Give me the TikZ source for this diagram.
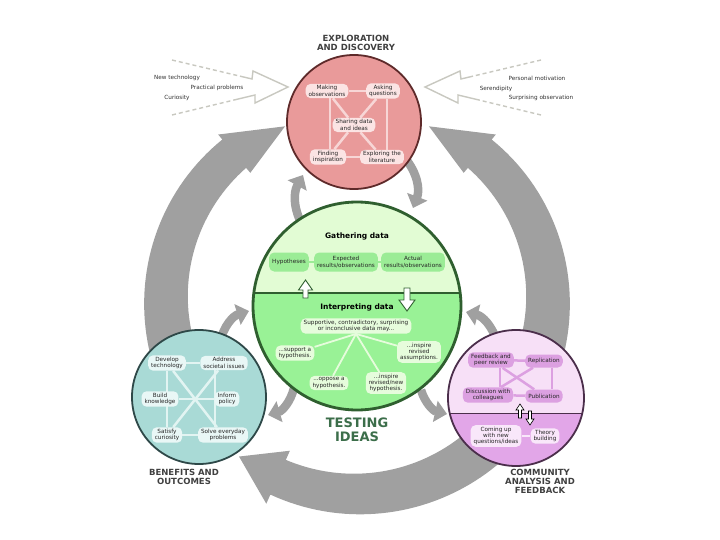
\documentclass[tikz,border=0pt]{standalone}
\usepackage{fontspec}
\setmainfont{DejaVu Sans}
\usetikzlibrary{arrows.meta}
\definecolor{arcgray}{RGB}{160,160,160}
\definecolor{outl}{RGB}{200,200,192}
\definecolor{redF}{RGB}{233,154,154}
\definecolor{redB}{RGB}{94,42,42}
\definecolor{redBox}{RGB}{251,228,228}
\definecolor{redLn}{RGB}{247,214,214}
\definecolor{gUp}{RGB}{226,252,212}
\definecolor{gLow}{RGB}{153,242,150}
\definecolor{gB}{RGB}{47,95,47}
\definecolor{gBoxU}{RGB}{155,236,150}
\definecolor{gBoxL}{RGB}{230,252,220}
\definecolor{tF}{RGB}{169,218,214}
\definecolor{tB}{RGB}{46,72,72}
\definecolor{tBox}{RGB}{233,247,246}
\definecolor{tLn}{RGB}{226,244,242}
\definecolor{pUp}{RGB}{247,224,247}
\definecolor{pLow}{RGB}{226,166,232}
\definecolor{pB}{RGB}{75,46,75}
\definecolor{pBoxU}{RGB}{220,160,225}
\definecolor{pBoxL}{RGB}{249,231,250}
\definecolor{hdgray}{RGB}{64,64,64}
\definecolor{tgreen}{RGB}{60,110,74}
\newcommand\smtxt{\fontsize{5.7}{6.3}\selectfont}
\newcommand\hdtxt{\fontsize{8.5}{9}\selectfont\bfseries}
\pgfdeclarelayer{bg}
\pgfdeclarelayer{circ}
\pgfdeclarelayer{lines}
\pgfsetlayers{bg,circ,lines,main}
\begin{document}
\begin{tikzpicture}[x=1pt,y=1pt,
  box/.style={rounded corners=5pt, inner xsep=3pt, inner ysep=1.8pt, minimum height=13pt, align=center, font=\smtxt, text=black!85},
  lbl/.style={font=\smtxt, text=black!80, inner sep=0.5pt},
  hd/.style={font=\hdtxt, text=hdgray, align=center},
  sarrow/.style={draw=arcgray, line width=8.5pt, -{Triangle[width=21pt,length=12pt]}},
  dsh/.style={draw=outl, line width=1.4pt, dash pattern=on 4pt off 3pt},
  hollow/.style={draw=outl, line width=1.4pt, line join=miter, fill=white},
  harrow/.style={draw=gB, fill=white, line width=0.9pt, line join=miter},
  parrow/.style={draw=black, fill=white, line width=0.6pt, line join=miter}
]
\useasboundingbox (0,0) rectangle (720,-540);

% ---------------- circles ----------------
\begin{pgfonlayer}{circ}
\node[circle, minimum size=134pt, inner sep=0pt, fill=redF, draw=redB, line width=1.8pt] (topc) at (354,-122) {};
\node[circle, minimum size=208pt, inner sep=0pt, fill=gUp, draw=gB, line width=2.8pt,
  path picture={\fill[gLow] (path picture bounding box.south west) rectangle ([yshift=13pt]path picture bounding box.east);
                \draw[gB, line width=1.6pt] ([yshift=13pt]path picture bounding box.west) -- ([yshift=13pt]path picture bounding box.east);}] (mid) at (357,-306) {};
\node[circle, minimum size=134pt, inner sep=0pt, fill=tF, draw=tB, line width=1.8pt] (lc) at (199,-397) {};
\node[circle, minimum size=136pt, inner sep=0pt, fill=pUp, draw=pB, line width=1.8pt,
  path picture={\fill[pLow] (path picture bounding box.south west) rectangle ([yshift=-15pt]path picture bounding box.east);
                \draw[pB, line width=0.8pt] ([yshift=-15pt]path picture bounding box.west) -- ([yshift=-15pt]path picture bounding box.east);}] (rc) at (516,-398) {};
\end{pgfonlayer}

% ---------------- headings ----------------
\node[hd] (hexp) at (356,-43) {EXPLORATION\\AND DISCOVERY};
\node[hd] (hben) at (184,-477) {BENEFITS AND\\OUTCOMES};
\node[hd] (hcom) at (540,-481) {COMMUNITY\\ANALYSIS AND\\FEEDBACK};
\node[font=\fontsize{13}{13.5}\selectfont\bfseries, text=tgreen, align=center] (htest) at (357,-430) {TESTING\\IDEAS};

% ---------------- background arrows ----------------
\begin{pgfonlayer}{bg}
\fill[white] (0,0) rectangle (720,-540);
% left big arc
\fill[arcgray] plot[domain=205:130, samples=40] ({357+(191+(47-10*(205-\x)/75)/2)*cos(\x)},{-300+(191+(47-10*(205-\x)/75)/2)*sin(\x)})
  -- ({357+216*cos(130)},{-300+216*sin(130)})
  -- ({357+188*cos(112.5)},{-300+188*sin(112.5)})
  -- ({357+166*cos(130)},{-300+166*sin(130)})
  -- plot[domain=130:205, samples=40] ({357+(191-(47-10*(205-\x)/75)/2)*cos(\x)},{-300+(191-(47-10*(205-\x)/75)/2)*sin(\x)})
  -- cycle;
% right big arc
\fill[arcgray] plot[domain=-25:50, samples=40] ({357+(191+(47-10*(\x+25)/75)/2)*cos(\x)},{-300+(191+(47-10*(\x+25)/75)/2)*sin(\x)})
  -- ({357+216*cos(50)},{-300+216*sin(50)})
  -- ({357+188*cos(67.5)},{-300+188*sin(67.5)})
  -- ({357+166*cos(50)},{-300+166*sin(50)})
  -- plot[domain=50:-25, samples=40] ({357+(191-(47-10*(\x+25)/75)/2)*cos(\x)},{-300+(191-(47-10*(\x+25)/75)/2)*sin(\x)})
  -- cycle;
% bottom big arc
\fill[arcgray] plot[domain=-40:-114, samples=40] ({357+(194+(46-8*(-40-\x)/74)/2)*cos(\x)},{-300+(194+(46-8*(-40-\x)/74)/2)*sin(\x)})
  -- ({357+223*cos(-114)},{-300+223*sin(-114)})
  -- ({357+196*cos(-127)},{-300+196*sin(-127)})
  -- ({357+165*cos(-114)},{-300+165*sin(-114)})
  -- plot[domain=-114:-40, samples=40] ({357+(194-(46-8*(-40-\x)/74)/2)*cos(\x)},{-300+(194-(46-8*(-40-\x)/74)/2)*sin(\x)})
  -- cycle;
% small curved arrows
\coordinate (a1s) at (304,-228); \coordinate (a1e) at (303,-175);
\coordinate (a2s) at (405,-158); \coordinate (a2e) at (413,-208);
\coordinate (a3s) at (220,-342); \coordinate (a3e) at (249,-311);
\coordinate (a4s) at (294,-388); \coordinate (a4e) at (268,-415);
\coordinate (a5s) at (497,-342); \coordinate (a5e) at (466,-312);
\coordinate (a6s) at (421,-390); \coordinate (a6e) at (447,-414);
\draw[sarrow] (a1s) to[bend left=30] (a1e);
\draw[sarrow] (a2s) to[bend left=30] (a2e);
\draw[sarrow] (a3s) to[bend left=30] (a3e);
\draw[sarrow] (a4s) to[bend left=30] (a4e);
\draw[sarrow] (a5s) to[bend right=30] (a5e);
\draw[sarrow] (a6s) to[bend right=30] (a6e);
% dashed hollow arrows
\draw[dsh] (172,-60) -- (240,-76.15);
\draw[dsh] (172,-115) -- (237,-99.3);
\draw[hollow] (240,-76.15) -- (252,-79) -- (253,-71) -- (288,-87) -- (255,-103) -- (255,-95) -- (237,-99.3);
\draw[dsh] (541,-60) -- (473,-76.15);
\draw[dsh] (541,-115) -- (476,-99.3);
\draw[hollow] (473,-76.15) -- (461,-79) -- (460,-71) -- (425,-87) -- (458,-103) -- (458,-95) -- (476,-99.3);
\end{pgfonlayer}

% labels near dashed arrows
\node[lbl] (l1) at (177,-78) {New technology};
\node[lbl] (l2) at (217,-88) {Practical problems};
\node[lbl] (l3) at (177,-98) {Curiosity};
\node[lbl] (r1) at (537,-78) {Personal motivation};
\node[lbl] (r2) at (496,-89) {Serendipity};
\node[lbl] (r3) at (541,-98) {Surprising observation};

% ---------------- top circle ----------------
\node[box, fill=redBox] (tl) at (327,-91) {Making\\observations};
\node[box, fill=redBox] (tr) at (383,-91) {Asking\\questions};
\node[box, fill=redBox] (tc) at (354,-125) {Sharing data\\and ideas};
\node[box, fill=redBox] (bl) at (328,-157) {Finding\\inspiration};
\node[box, fill=redBox] (br) at (382,-157) {Exploring the\\literature};
\begin{pgfonlayer}{lines}
\draw[redLn, line width=2.5pt] (tl) -- (tr);
\draw[redLn, line width=2.5pt] (bl) -- (br);
\draw[redLn, line width=2.5pt] ([xshift=3pt]tl.south) -- ([xshift=2pt]bl.north);
\draw[redLn, line width=2.5pt] ([xshift=4pt]tr.south) -- ([xshift=5pt]br.north);
\draw[redLn, line width=2.5pt] (tl) -- (tc);
\draw[redLn, line width=2.5pt] (tc) -- (br);
\draw[redLn, line width=2.5pt] (tr) -- (tc);
\draw[redLn, line width=2.5pt] (tc) -- (bl);
\end{pgfonlayer}

% ---------------- middle circle ----------------
\node[font=\fontsize{7.5}{8}\selectfont\bfseries] (gath) at (357,-236) {Gathering data};
\node[box, fill=gBoxU, minimum height=19pt] (hyp) at (289,-262) {Hypotheses};
\node[box, fill=gBoxU, minimum height=19pt] (exp) at (346,-262) {Expected\\results/observations};
\node[box, fill=gBoxU, minimum height=19pt] (act) at (413,-262) {Actual\\results/observations};
\node[font=\fontsize{7.5}{8}\selectfont\bfseries] (interp) at (357,-307) {Interpreting data};
\node[box, fill=gBoxL] (sup) at (356,-326) {Supportive, contradictory, surprising\\or inconclusive data may...};
\node[box, fill=gBoxL, align=left] (s1) at (295,-353) {...support a\\hypothesis.};
\node[box, fill=gBoxL] (s2) at (419,-352) {...inspire\\revised\\assumptions.};
\node[box, fill=gBoxL] (s3) at (329,-383) {...oppose a\\hypothesis.};
\node[box, fill=gBoxL] (s4) at (386,-383) {...inspire\\revised/new\\hypothesis.};
\begin{pgfonlayer}{lines}
\draw[gBoxU, line width=2pt] (hyp) -- (exp);
\draw[gBoxU, line width=2pt] (exp) -- (act);
\draw[gBoxL, line width=1.8pt] (sup.south) -- (s1);
\draw[gBoxL, line width=1.8pt] (sup.south) -- (s2);
\draw[gBoxL, line width=1.8pt] (sup.south) -- (s3);
\draw[gBoxL, line width=1.8pt] (sup.south) -- (s4);
\end{pgfonlayer}
\draw[harrow] (303,-298) -- (303,-290) -- (298.5,-290) -- (305.5,-280) -- (312.5,-290) -- (308,-290) -- (308,-298) -- cycle;
\draw[harrow] (404,-288) -- (404,-300) -- (399,-300) -- (407,-311) -- (415,-300) -- (410,-300) -- (410,-288) -- cycle;

% ---------------- left circle ----------------
\node[box, fill=tBox] (dev) at (167,-363) {Develop\\technology};
\node[box, fill=tBox] (adr) at (224,-363) {Address\\societal issues};
\node[box, fill=tBox] (bld) at (160,-399) {Build\\knowledge};
\node[box, fill=tBox] (inf) at (227,-399) {Inform\\policy};
\node[box, fill=tBox] (sat) at (167,-435) {Satisfy\\curiosity};
\node[box, fill=tBox] (slv) at (223,-435) {Solve everyday\\problems};
\begin{pgfonlayer}{lines}
\draw[tLn, line width=2.5pt] (dev) -- (adr);
\draw[tLn, line width=2.5pt] (bld) -- (inf);
\draw[tLn, line width=2.5pt] (sat) -- (slv);
\draw[tLn, line width=2.5pt] (dev.south) -- (sat.north);
\draw[tLn, line width=2.5pt] ([xshift=-9pt]adr.south) -- ([xshift=-8pt]slv.north);
\draw[tLn, line width=2.5pt] (dev) -- (slv);
\draw[tLn, line width=2.5pt] (adr) -- (sat);
\end{pgfonlayer}

% ---------------- right circle ----------------
\node[box, fill=pBoxU] (fb) at (491,-360) {Feedback and\\peer review};
\node[box, fill=pBoxU] (rep) at (544,-361) {Replication};
\node[box, fill=pBoxU] (dis) at (488,-395) {Discussion with\\colleagues};
\node[box, fill=pBoxU] (pub) at (544,-396) {Publication};
\node[box, fill=pBoxL] (com) at (496,-436) {Coming up\\with new\\questions/ideas};
\node[box, fill=pBoxL] (thy) at (545,-436) {Theory\\building};
\begin{pgfonlayer}{lines}
\draw[pBoxU, line width=2.5pt] (fb) -- (rep);
\draw[pBoxU, line width=2.5pt] (dis) -- (pub);
\draw[pBoxU, line width=2.5pt] ([xshift=9pt]fb.south) -- ([xshift=12pt]dis.north);
\draw[pBoxU, line width=2.5pt] ([xshift=8pt]rep.south) -- ([xshift=8pt]pub.north);
\draw[pBoxU, line width=2.5pt] (fb) -- (pub);
\draw[pBoxU, line width=2.5pt] (rep) -- (dis);
\draw[pBoxL, line width=2pt] (com) -- (thy);
\end{pgfonlayer}
\draw[parrow] (518.5,-418) -- (518.5,-410) -- (516,-410) -- (520,-404) -- (524,-410) -- (521.5,-410) -- (521.5,-418) -- cycle;
\draw[parrow] (528.5,-411) -- (528.5,-419) -- (526,-419) -- (530,-425) -- (534,-419) -- (531.5,-419) -- (531.5,-411) -- cycle;
\end{tikzpicture}
\end{document}
